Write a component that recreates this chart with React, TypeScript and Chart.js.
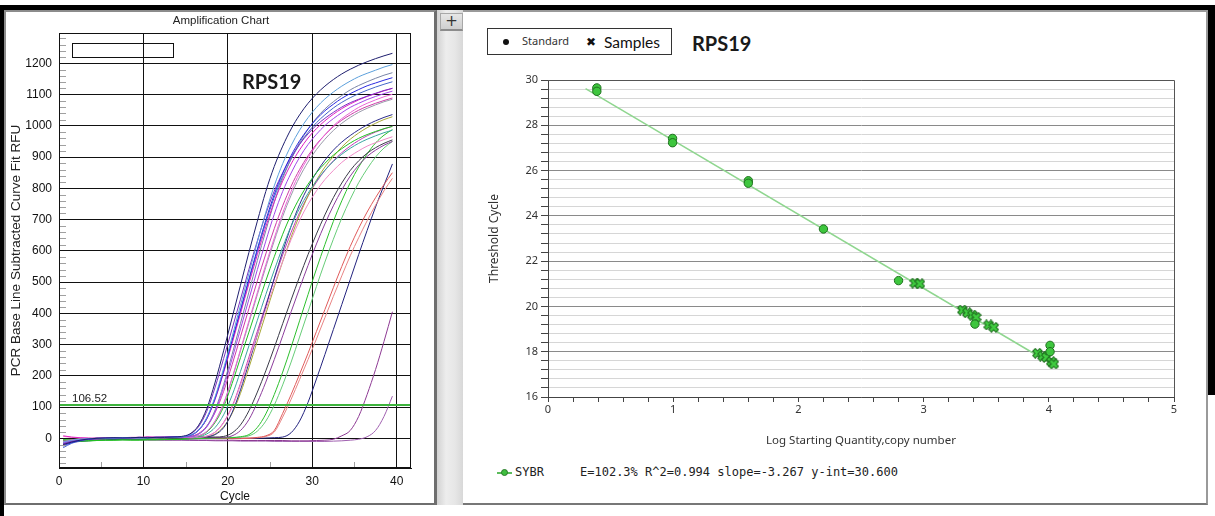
import React, { useEffect, useRef } from 'react';
import { Chart, registerables } from 'chart.js';

Chart.register(...registerables);

// ---------------- Amplification chart (left) ----------------
const cycles = [0.5, 1.5, 2.5, 3.5, 4.5, 5.5, 6.5, 7.5, 8.5, 9.5, 10.5, 11.5, 12.5, 13.5, 14.5, 15.5, 16.5, 17.5, 18.5, 19.5, 20.5, 21.5, 22.5, 23.5, 24.5, 25.5, 26.5, 27.5, 28.5, 29.5, 30.5, 31.5, 32.5, 33.5, 34.5, 35.5, 36.5, 37.5, 38.5, 39.5];

const navyEarly = [-20, -12, -6, -2, 0, 1, 2, 1, 2, 3, 2, 3, 3, 4, 6, 14, 40, 95, 180, 280, 385, 490, 595, 695, 790, 870, 935, 990, 1035, 1072, 1102, 1127, 1148, 1166, 1181, 1194, 1205, 1215, 1224, 1232];
const skyBlueEarly = [-12, -6, -3, -1, 0, 0, 1, 1, 2, 1, 2, 2, 3, 3, 5, 10, 26, 66, 134, 224, 324, 426, 528, 628, 723, 808, 879, 937, 986, 1026, 1059, 1086, 1108, 1127, 1143, 1157, 1168, 1178, 1188, 1196];
const blueEarly = [-25, -14, -7, -3, -1, 0, 1, 2, 2, 3, 2, 3, 3, 4, 5, 9, 25, 63, 129, 216, 313, 411, 510, 606, 698, 780, 848, 905, 952, 990, 1022, 1048, 1069, 1088, 1103, 1116, 1128, 1137, 1146, 1154];
const purpleEarly = [-18, -10, -5, -2, 0, 1, 1, 2, 1, 2, 3, 2, 3, 4, 5, 13, 36, 86, 164, 255, 350, 445, 541, 632, 718, 791, 850, 900, 941, 974, 1002, 1024, 1043, 1060, 1074, 1085, 1095, 1104, 1113, 1120];
const magentaEarly = [8, 4, 2, 1, 0, 1, 2, 2, 3, 3, 4, 3, 4, 4, 5, 9, 25, 62, 125, 210, 303, 399, 495, 588, 677, 757, 823, 878, 923, 961, 991, 1016, 1037, 1055, 1070, 1083, 1094, 1103, 1112, 1120];
const violetEarly = [-15, -9, -4, -1, 0, 0, 1, 1, 2, 2, 3, 3, 3, 4, 4, 5, 13, 36, 86, 163, 254, 350, 445, 540, 631, 717, 790, 849, 899, 940, 973, 1001, 1023, 1042, 1059, 1072, 1084, 1094, 1103, 1111];
const slateEarly = [-22, -13, -6, -2, 0, 1, 1, 2, 2, 3, 3, 2, 3, 4, 4, 6, 13, 38, 91, 172, 268, 368, 468, 569, 664, 755, 832, 894, 946, 989, 1025, 1054, 1077, 1097, 1115, 1129, 1141, 1152, 1162, 1170];
const royalEarly = [-30, -16, -8, -3, -1, 0, 1, 1, 2, 2, 2, 3, 3, 4, 5, 9, 25, 63, 128, 214, 309, 406, 504, 599, 690, 771, 838, 894, 941, 979, 1010, 1035, 1057, 1075, 1090, 1103, 1114, 1124, 1133, 1141];
const pinkMid = [-10, -6, -3, -1, 0, 1, 1, 2, 2, 2, 3, 3, 2, 3, 3, 3, 8, 22, 56, 112, 193, 284, 376, 467, 556, 641, 721, 790, 849, 897, 938, 971, 1000, 1023, 1042, 1059, 1072, 1083, 1093, 1101];
const grayMid = [-14, -8, -4, -2, 0, 0, 1, 1, 1, 2, 2, 2, 3, 3, 3, 3, 8, 22, 55, 110, 190, 280, 370, 460, 548, 632, 710, 778, 836, 884, 924, 957, 985, 1008, 1027, 1043, 1056, 1067, 1077, 1085];
const greenMid = [-5, -8, -9, -8, -7, -6, -6, -5, -6, -6, -5, -5, -4, -4, -3, 3, 7, 20, 51, 101, 175, 258, 340, 423, 504, 581, 653, 716, 769, 813, 850, 880, 906, 927, 945, 960, 972, 982, 991, 998];
const magentaMid = [-20, -11, -5, -2, 0, 1, 1, 2, 2, 3, 3, 3, 3, 3, 2, 6, 15, 39, 83, 150, 235, 325, 415, 504, 590, 671, 744, 807, 860, 904, 941, 971, 997, 1018, 1035, 1050, 1062, 1072, 1081, 1089];
const tealMid = [-12, -7, -3, -1, 0, 1, 1, 1, 2, 2, 2, 3, 3, 3, 3, 3, 5, 14, 35, 75, 137, 214, 296, 378, 460, 538, 612, 679, 736, 784, 824, 858, 886, 909, 928, 944, 957, 968, 978, 986];
const rosePinkMid = [6, 3, 1, 0, 0, 1, 1, 2, 2, 2, 3, 3, 3, 3, 3, 2, 3, 7, 20, 49, 99, 170, 251, 332, 412, 491, 566, 636, 697, 749, 792, 828, 857, 883, 903, 920, 935, 946, 956, 965];
const navyMid = [-16, -9, -4, -2, 0, 1, 1, 2, 2, 2, 3, 3, 3, 3, 4, 3, 4, 5, 12, 34, 82, 155, 241, 331, 421, 512, 598, 679, 748, 804, 851, 890, 922, 948, 969, 987, 1003, 1016, 1027, 1036];
const oliveMid = [-10, -5, -2, -1, 0, 1, 1, 1, 2, 2, 2, 2, 3, 3, 3, 3, 4, 5, 14, 37, 79, 144, 226, 312, 398, 484, 566, 644, 714, 775, 826, 868, 902, 932, 957, 977, 994, 1008, 1020, 1029];
const orchidMid = [-18, -10, -5, -2, -1, 0, 1, 1, 2, 2, 3, 3, 3, 3, 3, 2, 3, 7, 20, 51, 102, 176, 260, 343, 427, 509, 587, 659, 722, 776, 820, 857, 888, 914, 935, 953, 968, 980, 990, 999];
const charcoalLate = [-14, -8, -4, -2, 0, 0, 1, 1, 2, 2, 2, 3, 3, 3, 3, 3, 3, 4, 4, 6, 17, 43, 88, 148, 216, 290, 367, 443, 517, 588, 654, 715, 770, 817, 857, 888, 912, 930, 944, 955];
const plumLate = [-8, -5, -2, -1, 0, 1, 1, 1, 2, 2, 3, 2, 3, 3, 3, 3, 3, 3, 3, 3, 8, 25, 60, 115, 180, 252, 328, 405, 480, 553, 622, 686, 744, 795, 839, 874, 902, 922, 938, 950];
const greenLate = [-4, -6, -8, -8, -7, -6, -6, -5, -5, -5, -4, -4, -4, -3, -3, -2, -1, 0, 1, 1, 2, 5, 12, 35, 78, 140, 212, 292, 376, 460, 542, 620, 694, 760, 818, 868, 910, 945, 970, 988];
const paleGreenLate = [-6, -4, -3, -2, -1, -1, 0, 0, -1, 0, 1, 1, 1, 2, 2, 2, 2, 2, 2, 3, 3, 4, 8, 23, 55, 106, 171, 244, 324, 405, 486, 564, 637, 705, 765, 818, 862, 900, 929, 950];
const redLate = [-20, -12, -6, -3, -1, 0, 0, 1, 1, 1, 2, 2, 2, 2, 2, 2, 1, 1, 0, 0, -1, -1, 0, 3, 8, 25, 80, 140, 205, 272, 342, 412, 482, 550, 614, 672, 724, 770, 812, 850];
const salmonLate = [-10, -6, -3, -1, 0, 0, 1, 1, 1, 2, 2, 2, 3, 3, 3, 3, 2, 2, 2, 1, 1, 1, 1, 2, 6, 20, 68, 125, 188, 252, 318, 386, 454, 520, 584, 642, 696, 746, 792, 832];
const navyLate = [-8, -12, -10, -8, -6, -5, -4, -4, -3, -3, -3, -2, -2, -2, -2, -1, -1, -1, 0, 0, 0, 0, 0, 0, 1, 2, 4, 18, 55, 115, 190, 268, 348, 428, 508, 588, 665, 740, 810, 878];
const purpleVeryLate = [-15, -10, -6, -4, -3, -3, -3, -4, -4, -4, -5, -5, -5, -5, -5, -5, -6, -6, -6, -6, -6, -7, -7, -7, -7, -7, -7, -8, -8, -8, -7, -6, -3, 8, 25, 70, 140, 220, 310, 405];
const lavenderVeryLate = [-10, -6, -4, -2, -1, -2, -3, -3, -4, -4, -5, -5, -6, -6, -6, -7, -7, -7, -8, -8, -8, -9, -9, -9, -9, -10, -10, -10, -10, -10, -10, -10, -9, -8, -6, -3, 5, 25, 70, 135];

const amplificationCurves = [
  { name: 'A1', color: '#1e1e6e', values: navyEarly },
  { name: 'A2', color: '#5b9fdb', values: skyBlueEarly },
  { name: 'A3', color: '#2b2be0', values: blueEarly },
  { name: 'A4', color: '#7a30c2', values: purpleEarly },
  { name: 'A5', color: '#e01fc2', values: magentaEarly },
  { name: 'A6', color: '#a347e8', values: violetEarly },
  { name: 'A7', color: '#7884a6', values: slateEarly },
  { name: 'A8', color: '#4466c8', values: royalEarly },
  { name: 'B1', color: '#ea66d6', values: pinkMid },
  { name: 'B2', color: '#9a9aaa', values: grayMid },
  { name: 'B3', color: '#22c022', values: greenMid },
  { name: 'B4', color: '#cc3aa8', values: magentaMid },
  { name: 'B5', color: '#3aa6a0', values: tealMid },
  { name: 'B6', color: '#f08cc8', values: rosePinkMid },
  { name: 'C1', color: '#2c2c8c', values: navyMid },
  { name: 'C2', color: '#a8a838', values: oliveMid },
  { name: 'C3', color: '#c040b8', values: orchidMid },
  { name: 'D1', color: '#3a3a48', values: charcoalLate },
  { name: 'D2', color: '#8c3c9c', values: plumLate },
  { name: 'E1', color: '#2cc02c', values: greenLate },
  { name: 'E2', color: '#66cc77', values: paleGreenLate },
  { name: 'E3', color: '#e05a5a', values: redLate },
  { name: 'E4', color: '#e88484', values: salmonLate },
  { name: 'E5', color: '#22227e', values: navyLate },
  { name: 'F1', color: '#8e3a94', values: purpleVeryLate },
  { name: 'F2', color: '#a060b0', values: lavenderVeryLate },
];

const thresholdRFU = 106.52;
const leftXTicks = [0, 10, 20, 30, 40];
const leftYTicks = [0, 100, 200, 300, 400, 500, 600, 700, 800, 900, 1000, 1100, 1200];
const leftXMinorTicks = [5, 15, 25, 35];
const leftYMinorTicks = [-80, -60, -40, -20, 20, 40, 60, 80, 120, 140, 160, 180, 220, 240, 260, 280, 320, 340, 360, 380, 420, 440, 460, 480, 520, 540, 560, 580, 620, 640, 660, 680, 720, 740, 760, 780, 820, 840, 860, 880, 920, 940, 960, 980, 1020, 1040, 1060, 1080, 1120, 1140, 1160, 1180, 1220, 1240, 1260, 1280];

// ---------------- Standard curve (right) ----------------
const standardLogQty = [0.39, 0.39, 0.995, 0.995, 1.6, 1.6, 2.2, 2.8, 3.41, 4.01, 4.01];
const standardCt = [29.65, 29.5, 27.42, 27.23, 25.55, 25.44, 23.42, 21.14, 19.22, 18.28, 18.0];
const sampleLogQty = [2.93, 2.97, 3.31, 3.35, 3.39, 3.42, 3.52, 3.56, 3.91, 3.95, 3.98, 4.02, 4.04];
const sampleCt = [21.03, 21.0, 19.84, 19.72, 19.62, 19.52, 19.18, 19.08, 17.93, 17.81, 17.75, 17.56, 17.46];
const fitLogQty = [0.3, 4.05];
const fitCt = [29.62, 17.37];
const rightXTicks = [0, 0.2, 0.4, 0.6, 0.8, 1, 1.2, 1.4, 1.6, 1.8, 2, 2.2, 2.4, 2.6, 2.8, 3, 3.2, 3.4, 3.6, 3.8, 4, 4.2, 4.4, 4.6, 4.8, 5];
const rightYTicks = [16, 16.4, 16.8, 17.2, 17.6, 18, 18.4, 18.8, 19.2, 19.6, 20, 20.4, 20.8, 21.2, 21.6, 22, 22.4, 22.8, 23.2, 23.6, 24, 24.4, 24.8, 25.2, 25.6, 26, 26.4, 26.8, 27.2, 27.6, 28, 28.4, 28.8, 29.2, 29.6, 30];
const efficiencyText = 'SYBR     E=102.3% R^2=0.994 slope=-3.267 y-int=30.600';

const leftDecor = {
  id: 'leftDecor',
  afterDatasetsDraw(chart: any) {
    const { ctx, chartArea: a, scales } = chart;
    const xs = scales.x;
    const ys = scales.y;
    ctx.save();
    const ty = ys.getPixelForValue(thresholdRFU);
    ctx.strokeStyle = '#3db33d';
    ctx.lineWidth = 2;
    ctx.beginPath();
    ctx.moveTo(a.left, ty);
    ctx.lineTo(a.right, ty);
    ctx.stroke();
    ctx.strokeStyle = '#a0a0a0';
    ctx.lineWidth = 1;
    ctx.beginPath();
    leftYMinorTicks.forEach((v) => {
      const py = Math.round(ys.getPixelForValue(v)) + 0.5;
      ctx.moveTo(a.left, py);
      ctx.lineTo(a.left + 7, py);
    });
    leftXMinorTicks.forEach((v) => {
      const px = Math.round(xs.getPixelForValue(v)) + 0.5;
      ctx.moveTo(px, a.bottom);
      ctx.lineTo(px, a.bottom - 6);
    });
    ctx.stroke();
    ctx.strokeStyle = '#111';
    ctx.lineWidth = 1;
    ctx.strokeRect(Math.round(a.left) + 0.5, Math.round(a.top) + 0.5, Math.round(a.right - a.left) - 1, Math.round(a.bottom - a.top) - 1);
    ctx.restore();
  },
};

const rightDecor = {
  id: 'rightDecor',
  afterDraw(chart: any) {
    const { ctx, chartArea: a } = chart;
    ctx.save();
    ctx.strokeStyle = '#555';
    ctx.lineWidth = 1;
    ctx.beginPath();
    ctx.moveTo(Math.round(a.left), Math.round(a.top) + 0.5);
    ctx.lineTo(Math.round(a.right) + 0.5, Math.round(a.top) + 0.5);
    ctx.lineTo(Math.round(a.right) + 0.5, Math.round(a.bottom));
    ctx.stroke();
    ctx.restore();
  },
};

function makeCross(): HTMLCanvasElement {
  const c = document.createElement('canvas');
  c.width = 11;
  c.height = 11;
  const g = c.getContext('2d') as CanvasRenderingContext2D;
  const draw = (w: number, color: string, a: number, b: number) => {
    g.strokeStyle = color;
    g.lineWidth = w;
    g.lineCap = 'butt';
    g.beginPath();
    g.moveTo(a, a);
    g.lineTo(b, b);
    g.moveTo(b, a);
    g.lineTo(a, b);
    g.stroke();
  };
  draw(4.6, '#1f6f1f', 1.6, 9.4);
  draw(2.6, '#40cc40', 2.4, 8.6);
  return c;
}

export default function App() {
  const leftRef = useRef<HTMLCanvasElement>(null);
  const rightRef = useRef<HTMLCanvasElement>(null);

  useEffect(() => {
    if (!leftRef.current || !rightRef.current) return;
    const leftFont = { family: 'Liberation Sans', size: 12 };
    const left = new Chart(leftRef.current, {
      type: 'line',
      data: {
        datasets: amplificationCurves.map((c) => ({
          label: c.name,
          data: cycles.map((x, i) => ({ x, y: c.values[i] })),
          borderColor: c.color,
          borderWidth: 1,
          pointRadius: 0,
          fill: false,
          cubicInterpolationMode: 'monotone',
        })),
      },
      options: {
        responsive: false,
        animation: false,
        devicePixelRatio: 1,
        layout: { padding: { left: 0, top: 21, right: 21, bottom: 0 } },
        plugins: { legend: { display: false }, tooltip: { enabled: false }, title: { display: false } },
        scales: {
          x: {
            type: 'linear',
            min: 0,
            max: 41.7,
            afterBuildTicks: (s: any) => { s.ticks = leftXTicks.map((v) => ({ value: v })); },
            afterFit: (s: any) => { s.height = 36; },
            grid: { color: '#111', lineWidth: 1, drawTicks: false },
            border: { display: true, color: '#111' },
            ticks: { font: leftFont, color: '#111', padding: 6.5, autoSkip: false, maxRotation: 0, callback: (v: any) => String(v) },
            title: { display: true, text: 'Cycle', font: leftFont, color: '#111', padding: { top: 0, bottom: 0 } },
          },
          y: {
            type: 'linear',
            min: -95,
            max: 1297,
            afterBuildTicks: (s: any) => { s.ticks = leftYTicks.map((v) => ({ value: v })); },
            afterFit: (s: any) => { s.width = 52; },
            grid: { color: '#111', lineWidth: 1, drawTicks: false },
            border: { display: true, color: '#111' },
            ticks: { font: leftFont, color: '#111', padding: 7, autoSkip: false, callback: (v: any) => String(v) },
            title: { display: true, text: 'PCR Base Line Subtracted Curve Fit RFU', font: { family: 'Liberation Sans', size: 13.5 }, color: '#222', padding: { top: 1.4, bottom: 0 } },
          },
        },
      },
      plugins: [leftDecor],
    } as any);

    const cross = makeCross();
    const rightFont = { family: 'Noto Sans', size: 11 };
    const right = new Chart(rightRef.current, {
      type: 'scatter',
      data: {
        datasets: [
          {
            label: 'Standard',
            data: standardLogQty.map((x, i) => ({ x, y: standardCt[i] })),
            pointStyle: 'circle',
            pointRadius: 4.2,
            backgroundColor: '#3ec63e',
            borderColor: '#1e6f1e',
            borderWidth: 1,
          },
          {
            label: 'Samples',
            data: sampleLogQty.map((x, i) => ({ x, y: sampleCt[i] })),
            pointStyle: cross,
            pointRadius: 5,
          },
          {
            label: 'SYBR',
            data: fitLogQty.map((x, i) => ({ x, y: fitCt[i] })),
            showLine: true,
            borderColor: '#8fd68f',
            borderWidth: 1.5,
            pointRadius: 0,
          },
        ],
      },
      options: {
        responsive: false,
        animation: false,
        devicePixelRatio: 1,
        layout: { padding: { left: 0, top: 20, right: 32, bottom: 0 } },
        plugins: { legend: { display: false }, tooltip: { enabled: false } },
        scales: {
          x: {
            type: 'linear',
            min: 0,
            max: 5,
            afterBuildTicks: (s: any) => { s.ticks = rightXTicks.map((v) => ({ value: v })); },
            afterFit: (s: any) => { s.height = 63; },
            grid: { drawOnChartArea: false, drawTicks: true, tickLength: 5, color: '#444', tickColor: '#444' },
            border: { display: true, color: '#444' },
            ticks: { font: rightFont, color: '#333', padding: 1, autoSkip: false, maxRotation: 0, callback: (v: any) => (Number.isInteger(v) ? String(v) : '') },
            title: { display: true, text: 'Log Starting Quantity,copy number', font: { family: 'Noto Sans', size: 11.5 }, color: '#333', padding: { top: 0, bottom: 12.8 } },
          },
          y: {
            type: 'linear',
            min: 16,
            max: 30,
            afterBuildTicks: (s: any) => { s.ticks = rightYTicks.map((v) => ({ value: v })); },
            afterFit: (s: any) => { s.width = 85; },
            grid: {
              color: (ctx: any) => (ctx.tick && Number.isInteger(ctx.tick.value) && ctx.tick.value % 2 === 0 ? '#8a8a8a' : '#d6d6d6'),
              tickColor: '#444',
              tickLength: 7,
              drawTicks: true,
            },
            border: { display: true, color: '#444' },
            ticks: { font: rightFont, color: '#333', padding: 3, autoSkip: false, callback: (v: any) => (Number.isInteger(v) && v % 2 === 0 ? String(v) : '') },
            title: { display: true, text: 'Threshold Cycle', font: { family: 'Noto Sans', size: 12 }, color: '#333', padding: { top: 24.8, bottom: 0 } },
          },
        },
      },
      plugins: [rightDecor],
    } as any);

    return () => {
      left.destroy();
      right.destroy();
    };
  }, []);

  const abs = (s: React.CSSProperties): React.CSSProperties => ({ position: 'absolute', margin: 0, ...s });

  return (
    <div style={abs({ left: 0, top: 0, width: 1215, height: 516, background: '#fff', overflow: 'hidden', fontFamily: 'Liberation Sans' })}>
      {/* outer frame */}
      <div style={abs({ left: 0, top: 5, width: 1215, height: 5, background: '#000' })} />
      <div style={abs({ left: 0, top: 5, width: 4, height: 511, background: '#000' })} />
      <div style={abs({ left: 1208, top: 5, width: 7, height: 390, background: '#000' })} />
      {/* left panel */}
      <div style={abs({ left: 4, top: 10, width: 433, height: 495, boxSizing: 'border-box', borderTop: '2px solid #8c8c8c', borderLeft: '2px solid #8c8c8c', borderRight: '3px solid #6e6e6e', borderBottom: '2px solid #6e6e6e', background: '#fff' })} />
      {/* splitter */}
      <div style={abs({ left: 437, top: 10, width: 26, height: 495, background: 'linear-gradient(90deg, #d2d2d2 0%, #ededed 35%, #e6e6e6 70%, #d8d8d8 100%)' })} />
      <div style={abs({ left: 440, top: 13, width: 23, height: 18, boxSizing: 'border-box', background: 'linear-gradient(180deg, #e6e6e6, #cfcfcf)', border: '1px solid #a8a8a8', borderBottom: '2px solid #8c8c8c', color: '#333', fontSize: 15, lineHeight: '14px', textAlign: 'center', fontFamily: 'DejaVu Sans' })}>+</div>
      {/* right panel */}
      <div style={abs({ left: 463, top: 10, width: 745, height: 495, boxSizing: 'border-box', borderTop: '2px solid #9a9a9a', borderRight: '2px solid #9a9a9a', borderBottom: '2px solid #777', background: '#fff' })} />

      <canvas ref={leftRef} width={425} height={492} style={abs({ left: 7, top: 12, width: 425, height: 492 })} />
      <canvas ref={rightRef} width={743} height={400} style={abs({ left: 463, top: 60, width: 743, height: 400 })} />

      {/* left overlays */}
      <div style={abs({ left: 121, top: 13, width: 200, height: 14, lineHeight: '14px', fontSize: 11.5, color: '#222', textAlign: 'center' })}>Amplification Chart</div>
      <div style={abs({ left: 72, top: 43, width: 102, height: 15, boxSizing: 'border-box', border: '1px solid #111' })} />
      <div style={abs({ left: 242, top: 69, lineHeight: '24px', fontSize: 20, fontWeight: 700, fontFamily: 'Lato', color: '#1a1a1a' })}>RPS19</div>
      <div style={abs({ left: 72, top: 391, lineHeight: '14px', fontSize: 11.5, color: '#222' })}>106.52</div>

      {/* right overlays */}
      <div style={abs({ left: 487, top: 28, width: 185, height: 27, boxSizing: 'border-box', border: '1px solid #333' })} />
      <div style={abs({ left: 503, top: 39, width: 6, height: 6, borderRadius: '50%', background: '#111' })} />
      <div style={abs({ left: 522, top: 33, lineHeight: '16px', fontSize: 11, fontFamily: 'Noto Sans', color: '#333' })}>Standard</div>
      <div style={abs({ left: 586, top: 34, lineHeight: '16px', fontSize: 12, fontFamily: 'DejaVu Sans', color: '#111' })}>✖</div>
      <div style={abs({ left: 604, top: 32, lineHeight: '20px', fontSize: 15.5, fontFamily: 'Lato', color: '#111' })}>Samples</div>
      <div style={abs({ left: 692, top: 31, lineHeight: '24px', fontSize: 20, fontWeight: 700, fontFamily: 'Lato', color: '#1a1a1a' })}>RPS19</div>

      <div style={abs({ left: 497, top: 472, width: 15, height: 2, background: '#5cbc5c' })} />
      <div style={abs({ left: 501, top: 469, width: 7, height: 7, boxSizing: 'border-box', borderRadius: '50%', background: '#3fbf3f', border: '1px solid #2a7a2a' })} />
      <div style={abs({ left: 515, top: 464, lineHeight: '16px', fontSize: 12, fontFamily: 'DejaVu Sans Mono', color: '#222', whiteSpace: 'pre' })}>{efficiencyText}</div>
    </div>
  );
}
